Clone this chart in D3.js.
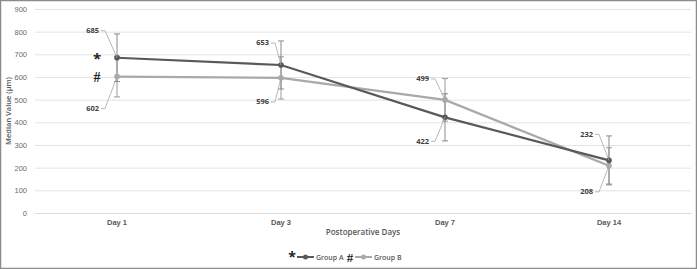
<!DOCTYPE html>
<html>
<head>
<meta charset="utf-8">
<script src="https://cdn.jsdelivr.net/npm/d3@7"></script>
<style>
  body { margin: 0; background: #fff; }
  svg { font-family: "Open Sans", "Liberation Sans", sans-serif; }
</style>
</head>
<body>
<svg id="chart" width="697" height="269"></svg>
<script>
// chart values
const days = ['Day 1', 'Day 3', 'Day 7', 'Day 14'];
const groupA = [685, 653, 422, 232];
const groupB = [602, 596, 499, 208];
const errA = [105, 106, 104, 108];
const errB = [90, 93, 94, 80];
const yTicks = [0, 100, 200, 300, 400, 500, 600, 700, 800, 900];

let svg = d3.select('#chart');
let width = 697, height = 269;

let margin = { left: 35, right: 6, top: 9, bottom: 56 };

let x = d3.scaleBand()
  .domain(days)
  .range([margin.left, width - margin.right]);

let y = d3.scaleLinear()
  .domain([0, 900])
  .range([height - margin.bottom, margin.top]);

let cx = d => x(d) + x.bandwidth() / 2;

// outer border
svg.append('rect')
  .attr('x', 0.5).attr('y', 0.5)
  .attr('width', width - 1).attr('height', height - 1)
  .attr('fill', 'none').attr('stroke', '#8c8c8c').attr('stroke-width', 1.5);

// gridlines + y labels
let yAxis = d3.axisLeft(y).tickValues(yTicks).tickSize(-(width - margin.left - margin.right)).tickPadding(8);
let gy = svg.append('g')
  .attr('transform', `translate(${margin.left},0)`)
  .call(yAxis);
gy.select('.domain').remove();
gy.selectAll('line').attr('stroke', '#e3e3e3').attr('stroke-width', 1);
gy.selectAll('text').attr('fill', '#6b6b6b').attr('font-size', 7.5);

// x labels
let xAxis = d3.axisBottom(x).tickSize(0).tickPadding(7);
let gx = svg.append('g')
  .attr('transform', `translate(0,${y(0)})`)
  .call(xAxis);
gx.select('.domain').attr('stroke', '#dcdcdc');
gx.selectAll('text').attr('fill', '#595959').attr('font-size', 7.5).attr('font-weight', 600);

// axis titles
svg.append('text')
  .attr('transform', `translate(11,${(y(0) + y(900)) / 2}) rotate(-90)`)
  .attr('text-anchor', 'middle')
  .attr('fill', '#595959').attr('font-size', 7.5).attr('font-weight', 600)
  .text('Median Value (µm)');

svg.append('text')
  .attr('x', (margin.left + width - margin.right) / 2).attr('y', 235)
  .attr('text-anchor', 'middle')
  .attr('fill', '#595959').attr('font-size', 8).attr('font-weight', 600)
  .text('Postoperative Days');

// error bars
function errorBars(vals, errs, color) {
  let g = svg.append('g').attr('stroke', color).attr('stroke-width', 1);
  days.forEach((d, i) => {
    let lo = y(vals[i] - errs[i]), hi = y(vals[i] + errs[i]);
    g.append('line').attr('x1', cx(d)).attr('x2', cx(d)).attr('y1', lo).attr('y2', hi);
    g.append('line').attr('x1', cx(d) - 3).attr('x2', cx(d) + 3).attr('y1', lo).attr('y2', lo);
    g.append('line').attr('x1', cx(d) - 3).attr('x2', cx(d) + 3).attr('y1', hi).attr('y2', hi);
  });
}
errorBars(groupB, errB, '#9a9a9a');
errorBars(groupA, errA, '#8a8a8a');

// lines
let line = d3.line().x((v, i) => cx(days[i])).y(v => y(v));

function series(vals, color) {
  svg.append('path').datum(vals)
    .attr('d', line).attr('fill', 'none')
    .attr('stroke', color).attr('stroke-width', 2.2);
  svg.append('g').selectAll('circle').data(vals).enter().append('circle')
    .attr('cx', (v, i) => cx(days[i])).attr('cy', v => y(v))
    .attr('r', 2.8).attr('fill', color);
}
series(groupB, '#a9a9a9');
series(groupA, '#595959');

// data labels with leader lines (offsets in px from the point)
const labOffA = [[-18, -27], [-12, -22], [-16, 24], [-16, -26]];
const labOffB = [[-18, 32], [-12, 24], [-16, -21], [-16, 26]];

function labels(vals, offs) {
  days.forEach((d, i) => {
    let px = cx(d), py = y(vals[i]);
    let lx = px + offs[i][0], ly = py + offs[i][1];
    svg.append('path')
      .attr('d', `M${lx + 2},${ly} L${lx + 6},${ly} L${px},${py}`)
      .attr('fill', 'none').attr('stroke', '#a6a6a6').attr('stroke-width', 0.8);
    svg.append('text')
      .attr('x', lx).attr('y', ly + 2.5)
      .attr('text-anchor', 'end')
      .attr('fill', '#404040').attr('font-size', 7.5).attr('font-weight', 700)
      .text(vals[i]);
  });
}
labels(groupA, labOffA);
labels(groupB, labOffB);

// significance markers
svg.append('text').attr('x', cx(days[0]) - 20).attr('y', y(groupA[0]) + 6)
  .attr('text-anchor', 'middle').attr('font-size', 15).attr('font-weight', 700).attr('fill', '#222')
  .text('*');
svg.append('text').attr('x', cx(days[0]) - 20).attr('y', y(groupB[0]) + 5)
  .attr('text-anchor', 'middle').attr('font-size', 14).attr('font-weight', 700).attr('fill', '#222')
  .attr('font-family', 'serif').text('#');

// legend
let leg = svg.append('g').attr('transform', 'translate(0,257)');
leg.append('text').attr('x', 292).attr('y', 5).attr('text-anchor', 'middle')
  .attr('font-size', 14).attr('font-weight', 700).attr('fill', '#222').text('*');
leg.append('line').attr('x1', 297).attr('x2', 314).attr('y1', 0).attr('y2', 0)
  .attr('stroke', '#595959').attr('stroke-width', 2);
leg.append('circle').attr('cx', 305.5).attr('cy', 0).attr('r', 2.5).attr('fill', '#595959');
leg.append('text').attr('x', 316).attr('y', 2.5).attr('fill', '#595959')
  .attr('font-size', 7).attr('font-weight', 600).text('Group A');
leg.append('text').attr('x', 350).attr('y', 5).attr('text-anchor', 'middle')
  .attr('font-size', 13).attr('font-weight', 700).attr('fill', '#222')
  .attr('font-family', 'serif').text('#');
leg.append('line').attr('x1', 355).attr('x2', 372).attr('y1', 0).attr('y2', 0)
  .attr('stroke', '#a9a9a9').attr('stroke-width', 2);
leg.append('circle').attr('cx', 363.5).attr('cy', 0).attr('r', 2.5).attr('fill', '#a9a9a9');
leg.append('text').attr('x', 374).attr('y', 2.5).attr('fill', '#595959')
  .attr('font-size', 7).attr('font-weight', 600).text('Group B');
</script>
</body>
</html>
